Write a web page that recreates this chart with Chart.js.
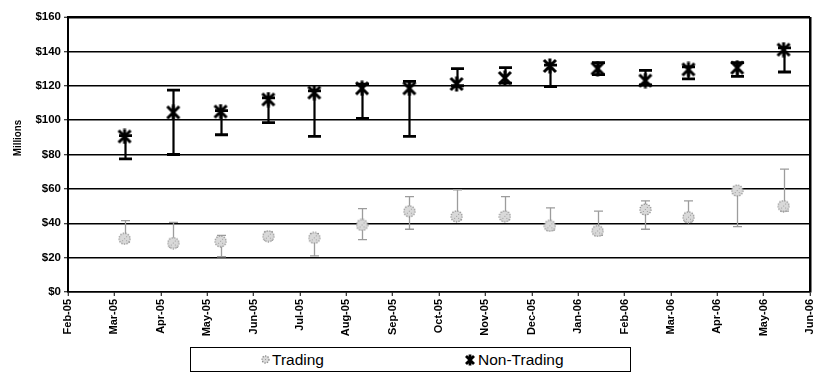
<!DOCTYPE html>
<html>
<head>
<meta charset="utf-8">
<script src="https://cdn.jsdelivr.net/npm/chart.js@4.4.0/dist/chart.umd.min.js"></script>
<style>
  body { margin: 0; background: #fff; }
  #wrap { position: relative; width: 815px; height: 372px; }
  #legend {
    position: absolute; left: 190px; top: 347px; width: 439px; height: 23px;
    border: 1px solid #000; background: #fff;
    font-family: "Liberation Sans", Arial, sans-serif; font-size: 15.5px; color: #000;
  }
  #legend .item { position: absolute; top: 0; height: 23px; line-height: 23px; white-space: nowrap; }
  #legend canvas { vertical-align: middle; margin-right: 2px; position: relative; top: -1px; }
</style>
</head>
<body>
<div id="wrap">
  <canvas id="myChart" width="815" height="372"></canvas>
  <div id="legend"></div>
</div>
<script>
// month tick labels (axis runs in months from Feb-05)
var monthLabels = ['Feb-05','Mar-05','Apr-05','May-05','Jun-05','Jul-05','Aug-05','Sep-05',
  'Oct-05','Nov-05','Dec-05','Jan-06','Feb-06','Mar-06','Apr-06','May-06','Jun-06'];

// observation positions, in months after Feb-05
var obsPos = [1.22, 2.27, 3.29, 4.32, 5.31, 6.34, 7.36, 8.38, 9.42, 10.39, 11.42, 12.45, 13.38, 14.43, 15.43];

var tradingMid  = [31, 28.5, 29.5, 32.5, 31.5, 39, 47, 44, 44, 38.5, 35.5, 48, 43.5, 59, 50];
var tradingLow  = [29, 26, 20.5, 30, 21, 30.5, 36.5, 42, 42, 36, 33, 36.5, 41, 38, 47];
var tradingHigh = [41.5, 40.5, 33, 35, 34, 48.5, 55.5, 59.5, 55.5, 49, 47, 53, 53, 60, 71.5];

var nonTradingMid  = [90.5, 104.5, 105, 112, 116, 118.5, 118.5, 121, 124.5, 131.5, 130, 123, 129.5, 130.5, 141];
var nonTradingLow  = [77.5, 80, 91.5, 98.5, 90.5, 101, 90.5, 120, 121.5, 119.5, 126.5, 120.5, 124, 125.5, 128];
var nonTradingHigh = [91, 117.5, 105.5, 113, 117, 121, 122.5, 130, 130.5, 132, 133.5, 129, 131, 133.5, 142];

var seriesNames = ['Trading', 'Non-Trading'];

function makeTradingMarker(size) {
  var c = document.createElement('canvas');
  c.width = size; c.height = size;
  var g = c.getContext('2d');
  var r = size / 2 - 1;
  g.beginPath();
  g.arc(size / 2, size / 2, r, 0, Math.PI * 2);
  g.fillStyle = '#d9d9d9';
  g.fill();
  g.setLineDash([1.3, 1.3]);
  g.lineWidth = 1.3;
  g.strokeStyle = '#8c8c8c';
  g.stroke();
  // speckle inside
  g.fillStyle = '#a0a0a0';
  for (var i = 2; i < size - 2; i += 2) {
    for (var j = 2; j < size - 2; j += 2) {
      var dx = i - size / 2, dy = j - size / 2;
      if (dx * dx + dy * dy < (r - 2) * (r - 2) && (i + j) % 4 === 0) g.fillRect(i, j, 1, 1);
    }
  }
  return c;
}

function makeStarMarker(size, lw) {
  var c = document.createElement('canvas');
  c.width = size; c.height = size;
  var g = c.getContext('2d');
  var p = 2, m = size / 2;
  g.strokeStyle = '#000';
  g.lineWidth = lw;
  g.lineCap = 'butt';
  g.beginPath();
  g.moveTo(p, p); g.lineTo(size - p, size - p);
  g.moveTo(size - p, p); g.lineTo(p, size - p);
  g.moveTo(m, 0.5); g.lineTo(m, size - 0.5);
  g.stroke();
  return c;
}

var tradingMarker = makeTradingMarker(13);
var starMarker = makeStarMarker(16, 3);

function toPoints(xs, ys) {
  return xs.map(function (x, i) { return { x: x, y: ys[i] }; });
}

var errorBars = {
  id: 'errorBars',
  beforeDatasetsDraw: function (chart) {
    var ctx = chart.ctx;
    var xs = chart.scales.x, ys = chart.scales.y;
    chart.data.datasets.forEach(function (ds) {
      ctx.save();
      ctx.strokeStyle = ds.barColor;
      ctx.lineWidth = ds.barWidth;
      ds.data.forEach(function (pt, i) {
        var px = Math.round(xs.getPixelForValue(pt.x)) + 0.5;
        var lo = ys.getPixelForValue(ds.low[i]);
        var hi = ys.getPixelForValue(ds.high[i]);
        ctx.beginPath();
        ctx.moveTo(px, lo); ctx.lineTo(px, hi);
        ctx.stroke();
        ctx.lineWidth = ds.capWidth;
        ctx.beginPath();
        ctx.moveTo(px - ds.capLen / 2, lo); ctx.lineTo(px + ds.capLen / 2, lo);
        ctx.moveTo(px - ds.capLen / 2, hi); ctx.lineTo(px + ds.capLen / 2, hi);
        ctx.stroke();
        ctx.lineWidth = ds.barWidth;
      });
      ctx.restore();
    });
  }
};

var yTitle = {
  id: 'yTitle',
  afterDraw: function (chart) {
    var ctx = chart.ctx;
    ctx.save();
    ctx.translate(18, 138);
    ctx.rotate(-Math.PI / 2);
    ctx.scale(0.85, 1);
    ctx.font = 'bold 11.5px "Liberation Sans", Arial, sans-serif';
    ctx.fillStyle = '#000';
    ctx.textAlign = 'center';
    ctx.textBaseline = 'middle';
    ctx.fillText('Millions', 0, 0);
    ctx.restore();
  }
};

Chart.defaults.font.family = '"Liberation Sans", Arial, sans-serif';

var chart = new Chart('myChart', {
  type: 'scatter',
  data: {
    datasets: [{
      label: seriesNames[0],
      data: toPoints(obsPos, tradingMid),
      low: tradingLow, high: tradingHigh,
      pointStyle: tradingMarker,
      barColor: '#9c9c9c', barWidth: 1.3, capWidth: 1.3, capLen: 9
    }, {
      label: seriesNames[1],
      data: toPoints(obsPos, nonTradingMid),
      low: nonTradingLow, high: nonTradingHigh,
      pointStyle: starMarker,
      barColor: '#000', barWidth: 2.2, capWidth: 2.8, capLen: 13
    }]
  },
  options: {
    responsive: false,
    animation: false,
    layout: { padding: { top: 17, right: 5, bottom: 30, left: 0 } },
    plugins: { legend: { display: false }, tooltip: { enabled: false } },
    scales: {
      x: {
        type: 'linear', min: 0, max: 16,
        ticks: {
          stepSize: 1, autoSkip: false, minRotation: 90, maxRotation: 90,
          color: '#000', padding: 3,
          font: { size: 11, weight: 'bold' },
          callback: function (v) { return monthLabels[v]; }
        },
        grid: {
          drawOnChartArea: true,
          color: function (c) { return c.tick && c.tick.value === 16 ? '#000' : 'rgba(0,0,0,0)'; },
          lineWidth: 2.5,
          tickLength: 4, tickColor: '#000', tickWidth: 1
        },
        border: { color: '#000', width: 1.5 },
        afterFit: function (s) { s.height = 50; s.paddingLeft = 0; s.paddingRight = 0; }
      },
      y: {
        min: 0, max: 160,
        ticks: {
          stepSize: 20, color: '#000', padding: 3,
          font: { size: 11.5, weight: 'bold' },
          callback: function (v) { return '$' + v; }
        },
        grid: {
          color: '#000',
          lineWidth: function (c) { return c.tick && c.tick.value === 160 ? 2.5 : 1.5; },
          tickLength: 4, tickColor: '#000', tickWidth: 1
        },
        border: { color: '#000', width: 2 },
        afterFit: function (s) { s.width = 68; }
      }
    }
  },
  plugins: [errorBars, yTitle]
});

// legend box below the chart
var legend = document.getElementById('legend');
var legendLeft = [70, 273];
chart.data.datasets.forEach(function (ds, i) {
  var item = document.createElement('span');
  item.className = 'item';
  item.style.left = legendLeft[i] + 'px';
  var mk = i === 0 ? makeTradingMarker(9) : makeStarMarker(12, 2.8);
  item.appendChild(mk);
  item.appendChild(document.createTextNode(ds.label));
  legend.appendChild(item);
});
</script>
</body>
</html>
